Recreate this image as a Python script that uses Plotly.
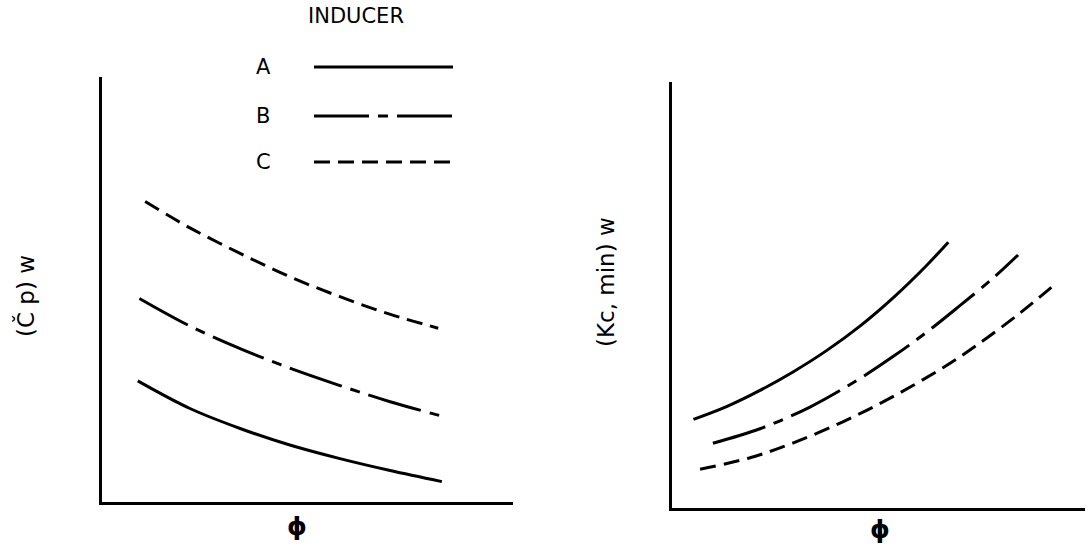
import plotly.graph_objects as go

W, H = 1088, 557

# Left panel: (Cp)w vs phi
left_A_x = [0.87, 2.14, 3.36, 4.57, 5.79, 7.01, 8.27]
left_A_y = [2.85, 2.20, 1.73, 1.34, 1.02, 0.74, 0.48]
left_B_x = [0.91, 2.14, 3.36, 4.57, 5.79, 7.01, 8.39]
left_B_y = [4.79, 4.14, 3.61, 3.15, 2.74, 2.36, 1.99]
left_C_x = [1.05, 2.14, 3.36, 4.57, 5.79, 7.00, 8.18]
left_C_y = [7.07, 6.45, 5.85, 5.30, 4.83, 4.42, 4.09]

# Right panel: (Kc,min)w vs phi
right_A_x = [0.52, 1.32, 2.13, 2.94, 3.75, 4.55, 5.36, 6.17, 6.69]
right_A_y = [2.08, 2.38, 2.76, 3.20, 3.70, 4.27, 4.94, 5.70, 6.24]
right_B_x = [0.99, 2.13, 3.34, 4.55, 5.36, 6.17, 6.97, 7.78, 8.38]
right_B_y = [1.52, 1.86, 2.37, 3.04, 3.56, 4.13, 4.75, 5.40, 5.94]
right_C_x = [0.68, 1.89, 2.94, 4.15, 5.36, 6.57, 7.38, 8.43, 9.27]
right_C_y = [0.91, 1.18, 1.53, 2.03, 2.62, 3.30, 3.82, 4.58, 5.25]

inducers = ["A", "B", "C"]
dashes = {"A": "solid", "B": "55px,9px,10px,9px", "C": "16px,8px"}

fig = go.Figure()
left = {"A": (left_A_x, left_A_y), "B": (left_B_x, left_B_y), "C": (left_C_x, left_C_y)}
right = {"A": (right_A_x, right_A_y), "B": (right_B_x, right_B_y), "C": (right_C_x, right_C_y)}
for k in inducers:
    fig.add_trace(go.Scatter(x=left[k][0], y=left[k][1], mode="lines", xaxis="x", yaxis="y",
                             line=dict(color="black", width=3, dash=dashes[k], shape="spline"),
                             showlegend=False))
    fig.add_trace(go.Scatter(x=right[k][0], y=right[k][1], mode="lines", xaxis="x2", yaxis="y2",
                             line=dict(color="black", width=3, dash=dashes[k], shape="spline"),
                             showlegend=False))

def px(x):
    return x / W

def py(y):
    return 1 - y / H

ax_common = dict(range=[0, 10], showgrid=False, zeroline=False, showticklabels=False,
                 ticks="", showline=True, linecolor="black", linewidth=3)
fig.update_layout(
    width=W, height=H, margin=dict(l=0, r=0, t=0, b=0),
    paper_bgcolor="white", plot_bgcolor="white",
    font=dict(family="DejaVu Sans, Liberation Sans, sans-serif", color="black", size=20),
    xaxis=dict(domain=[px(102), px(513)], anchor="y", **ax_common),
    yaxis=dict(domain=[py(502), py(77)], anchor="x", **ax_common),
    xaxis2=dict(domain=[px(672), px(1085)], anchor="y2", **ax_common),
    yaxis2=dict(domain=[py(508), py(82)], anchor="x2", **ax_common),
)

annotations = [
    dict(x=px(356), y=py(16), text="INDUCER", font=dict(size=21)),
    dict(x=px(297), y=py(526), text="<b>ϕ</b>", font=dict(size=25)),
    dict(x=px(880), y=py(529), text="<b>ϕ</b>", font=dict(size=25)),
    dict(x=px(25), y=py(296), text="(Č p) w", textangle=-90, font=dict(size=23)),
    dict(x=px(606), y=py(282), text="(Kc, min) w", textangle=-90, font=dict(size=23)),
]
legend_y = [67, 116, 162]
for k, yy in zip(inducers, legend_y):
    annotations.append(dict(x=px(263), y=py(yy), text=k, font=dict(size=21)))
    fig.add_shape(type="line", xref="paper", yref="paper", x0=px(314), x1=px(453),
                  y0=py(yy), y1=py(yy), line=dict(color="black", width=3, dash=dashes[k]))
for a in annotations:
    a.update(xref="paper", yref="paper", showarrow=False, xanchor="center", yanchor="middle")
fig.update_layout(annotations=annotations)

fig.write_html("out.html", config={"displayModeBar": False},
               post_script="document.body.style.margin='0';")
